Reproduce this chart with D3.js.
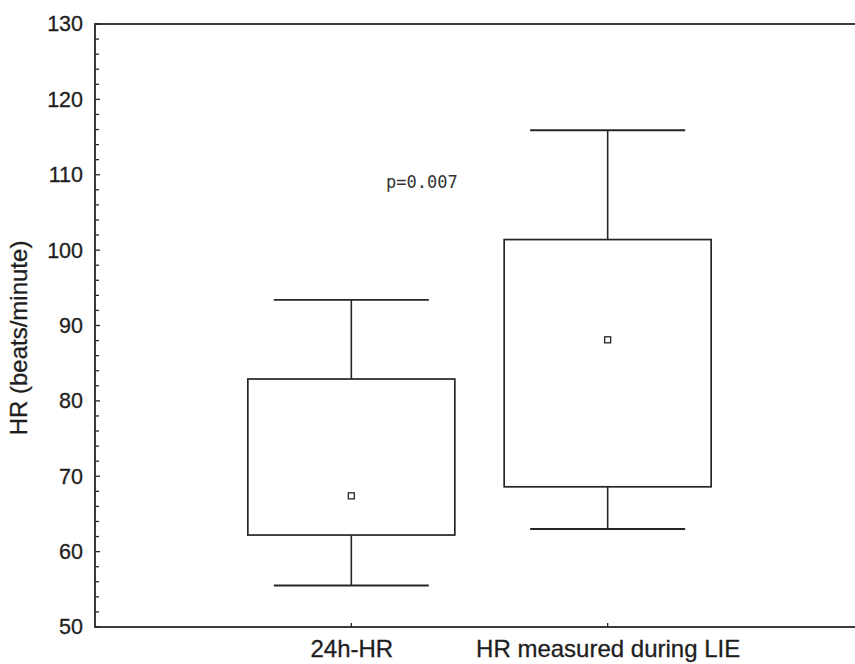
<!DOCTYPE html>
<html>
<head>
<meta charset="utf-8">
<script src="https://cdn.jsdelivr.net/npm/d3@7"></script>
<style>
  html, body { margin: 0; padding: 0; background: #fff; }
  svg { display: block; }
</style>
</head>
<body>
<svg id="chart" width="855" height="664"></svg>
<script>
// Heart-rate summary per measurement condition
const categories = ["24h-HR", "HR measured during LIE"];
const whiskerLow  = [55.5, 63.0];
const boxLow      = [62.2, 68.6];
const meanValue   = [67.4, 88.1];
const boxHigh     = [82.9, 101.4];
const whiskerHigh = [93.4, 115.9];
const yTicks = [50, 60, 70, 80, 90, 100, 110, 120, 130];
const pLabel = "p=0.007";

const svg = d3.select("#chart");
const ink = "#262626";
const textInk = "#1e1e1e";

const plotLeft = 95, plotRight = 864, plotTop = 24, plotBottom = 627;

const x = d3.scalePoint().domain(categories).range([plotLeft, plotRight]).padding(1);
const y = d3.scaleLinear().domain([50, 130]).range([plotBottom, plotTop]);

// frame
svg.append("rect")
  .attr("x", plotLeft).attr("y", plotTop)
  .attr("width", plotRight - plotLeft).attr("height", plotBottom - plotTop)
  .attr("fill", "none").attr("stroke", ink).attr("stroke-width", 1.8);

// y axis with inward ticks
const yAxis = d3.axisLeft(y).tickValues(yTicks).tickSize(0).tickPadding(12);
const gy = svg.append("g").attr("transform", `translate(${plotLeft},0)`).call(yAxis);
gy.select(".domain").remove();
gy.selectAll("text")
  .attr("font-family", "Liberation Sans, Arial, sans-serif")
  .attr("font-size", 21.5)
  .attr("fill", textInk)
  .attr("stroke", textInk).attr("stroke-width", 0.3);

const minor = d3.range(50, 131, 2);
svg.append("g").selectAll("line").data(minor).join("line")
  .attr("x1", plotLeft).attr("x2", d => plotLeft + (d % 10 === 0 ? 5 : 4))
  .attr("y1", d => y(d)).attr("y2", d => y(d))
  .attr("stroke", ink).attr("stroke-width", 1.3);

// x axis labels and inward ticks
const xAxis = d3.axisBottom(x).tickSize(0).tickPadding(13);
const gx = svg.append("g").attr("transform", `translate(0,${plotBottom})`).call(xAxis);
gx.select(".domain").remove();
gx.selectAll("text")
  .attr("font-family", "Liberation Sans, Arial, sans-serif")
  .attr("font-size", 24)
  .attr("fill", textInk)
  .attr("stroke", textInk).attr("stroke-width", 0.3);
svg.append("g").selectAll("line").data(categories).join("line")
  .attr("x1", d => x(d)).attr("x2", d => x(d))
  .attr("y1", plotBottom).attr("y2", plotBottom - 4)
  .attr("stroke", ink).attr("stroke-width", 1.3);

// y axis title
svg.append("text")
  .attr("transform", `translate(27,338) rotate(-90)`)
  .attr("text-anchor", "middle")
  .attr("font-family", "Liberation Sans, Arial, sans-serif")
  .attr("font-size", 24)
  .attr("fill", textInk)
  .attr("stroke", textInk).attr("stroke-width", 0.3)
  .text("HR (beats/minute)");

// boxes and whiskers
const boxW = 207, capW = 155, markW = 6;
const groups = svg.append("g").selectAll("g").data(categories).join("g");

groups.append("line")
  .attr("x1", d => x(d)).attr("x2", d => x(d))
  .attr("y1", (d, i) => y(whiskerHigh[i])).attr("y2", (d, i) => y(boxHigh[i]))
  .attr("stroke", ink).attr("stroke-width", 1.6);
groups.append("line")
  .attr("x1", d => x(d)).attr("x2", d => x(d))
  .attr("y1", (d, i) => y(boxLow[i])).attr("y2", (d, i) => y(whiskerLow[i]))
  .attr("stroke", ink).attr("stroke-width", 1.6);
groups.append("line")
  .attr("x1", d => x(d) - capW / 2).attr("x2", d => x(d) + capW / 2)
  .attr("y1", (d, i) => y(whiskerHigh[i])).attr("y2", (d, i) => y(whiskerHigh[i]))
  .attr("stroke", ink).attr("stroke-width", 1.9);
groups.append("line")
  .attr("x1", d => x(d) - capW / 2).attr("x2", d => x(d) + capW / 2)
  .attr("y1", (d, i) => y(whiskerLow[i])).attr("y2", (d, i) => y(whiskerLow[i]))
  .attr("stroke", ink).attr("stroke-width", 1.9);
groups.append("rect")
  .attr("x", d => x(d) - boxW / 2)
  .attr("y", (d, i) => y(boxHigh[i]))
  .attr("width", boxW)
  .attr("height", (d, i) => y(boxLow[i]) - y(boxHigh[i]))
  .attr("fill", "none").attr("stroke", ink).attr("stroke-width", 1.7);
groups.append("rect")
  .attr("x", d => x(d) - markW / 2)
  .attr("y", (d, i) => y(meanValue[i]) - markW / 2)
  .attr("width", markW).attr("height", markW)
  .attr("fill", "none").attr("stroke", ink).attr("stroke-width", 1.3);

// significance note
svg.append("text")
  .attr("x", 386).attr("y", 188)
  .attr("font-family", "DejaVu Sans Mono, monospace")
  .attr("font-size", 17)
  .attr("fill", "#333")
  .text(pLabel);
</script>
</body>
</html>
